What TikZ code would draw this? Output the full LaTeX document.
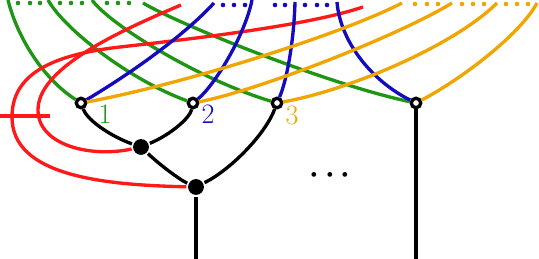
\documentclass[tikz,border=0pt]{standalone}
\usepackage{fontspec}

\definecolor{strandgreen}{RGB}{30,150,20}
\definecolor{strandblue}{RGB}{20,10,190}
\definecolor{strandorange}{RGB}{240,165,0}
\definecolor{strandred}{RGB}{255,25,25}

\begin{document}
\begin{tikzpicture}[x=0.02cm, y=-0.02cm, line width=1.9pt,
    leaf/.style={circle, draw, fill=white, inner sep=0pt, minimum size=5.4pt, line width=1.9pt},
    merge/.style={circle, fill, inner sep=0pt, minimum size=9pt},
    label/.style={font=\fontsize{16}{18}\selectfont, inner sep=0pt}]
  \useasboundingbox (0,0) rectangle (539,259);

  % Vertices of the tree
  \node [leaf] (v1) at (81,103) {};
  \node [leaf] (v2) at (193,103) {};
  \node [leaf] (v3) at (277,103) {};
  \node [leaf] (v4) at (416,103) {};
  \node [merge] (m1) at (141,147) {};
  \node [merge] (m2) at (196,187) {};

  % Free ends
  \coordinate (g1) at (8,0);    \coordinate (g2) at (48,0);
  \coordinate (g3) at (92,0);   \coordinate (g4) at (143,3);
  \coordinate (b1) at (214,3);  \coordinate (b2) at (252,0);
  \coordinate (b3) at (295,2);  \coordinate (b4) at (337,2);
  \coordinate (o1) at (402,3);  \coordinate (o2) at (452,3);
  \coordinate (o3) at (497,3);  \coordinate (o4) at (537,3);
  \coordinate (r1) at (181,5);  \coordinate (r2) at (363,7);
  \coordinate (h1) at (0,116);  \coordinate (h2) at (50,116);
  \coordinate (root1) at (196,259);
  \coordinate (root2) at (416,259);

  % Green strands
  \draw [strandgreen] (v1) .. controls (45,80) and (18,40) .. (g1);
  \draw [strandgreen] (v2) .. controls (130,80) and (65,30) .. (g2);
  \draw [strandgreen] (v3) .. controls (200,80) and (110,25) .. (g3);
  \draw [strandgreen] (v4) .. controls (330,85) and (180,25) .. (g4);

  % Red strands
  \draw [strandred] (m1) .. controls (90,158) and (38,145) .. (38,110)
    .. controls (38,70) and (110,35) .. (r1);
  \draw [strandred] (m2) .. controls (100,185) and (12,175) .. (12,117)
    .. controls (12,75) and (50,55) .. (120,47)
    .. controls (200,38) and (310,25) .. (r2);
  \draw [strandred] (h1) -- (h2);

  % Blue strands
  \draw [strandblue] (v1) .. controls (120,80) and (180,40) .. (b1);
  \draw [strandblue] (v2) .. controls (215,85) and (245,35) .. (b2);
  \draw [strandblue] (v3) .. controls (287,80) and (294,40) .. (b3);
  \draw [strandblue] (v4) .. controls (370,80) and (340,40) .. (b4);

  % Orange strands
  \draw [strandorange] (v1) .. controls (180,85) and (340,35) .. (o1);
  \draw [strandorange] (v2) .. controls (260,90) and (400,35) .. (o2);
  \draw [strandorange] (v3) .. controls (350,90) and (455,45) .. (o3);
  \draw [strandorange] (v4) .. controls (460,80) and (520,35) .. (o4);

  % Dots between the free ends
  \foreach \x in {18,30,40,60,71,82,107,118,129}
    \fill [strandgreen] (\x,3) circle (1.3pt);
  \foreach \x in {223,234,245,275,285,305,317,327}
    \fill [strandblue] (\x,5) circle (1.3pt);
  \foreach \x in {415,427,438,462,473,484,506,517,528}
    \fill [strandorange] (\x,4) circle (1.3pt);

  % Tree edges
  \draw (v1) .. controls (88,122) and (115,138) .. (m1);
  \draw (v2) .. controls (190,118) and (170,135) .. (m1);
  \draw (m1) .. controls (160,165) and (180,180) .. (m2);
  \draw (v3) .. controls (265,135) and (230,170) .. (m2);
  \draw (m2) -- (root1);
  \draw (v4) -- (root2);

  % Labels
  \node [label, strandgreen] (l1) at (105,114) {1};
  \node [label, strandblue] (l2) at (208,114) {2};
  \node [label, strandorange] (l3) at (292,115) {3};
  \node [inner sep=0pt, font=\LARGE\boldmath] (dots) at (330,175) {$\cdots$};
\end{tikzpicture}
\end{document}
